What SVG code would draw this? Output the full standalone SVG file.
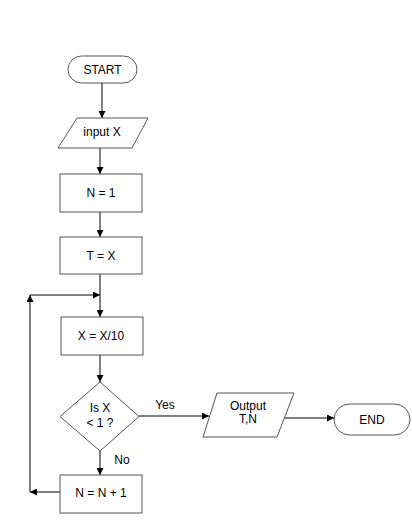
<svg xmlns="http://www.w3.org/2000/svg" width="412" height="524" viewBox="0 0 412 524">
<style>
.s{fill:#fff;stroke:#555;stroke-width:1}
.t{font-family:"Liberation Sans",Arial,sans-serif;font-size:12px;fill:#000;text-anchor:middle}
.c{fill:none;stroke:#000;stroke-width:1}
</style>
<defs>
<marker id="a" viewBox="0 0 10 10" refX="10" refY="5" markerWidth="7" markerHeight="7" orient="auto" markerUnits="userSpaceOnUse">
<path d="M0,0 L10,5 L0,10 z" fill="#000"/>
</marker>
</defs>
<rect width="412" height="524" fill="#fff"/>
<g id="connectors">
<path class="c" d="M102,83 V118" marker-end="url(#a)"/>
<path class="c" d="M100,148 V174" marker-end="url(#a)"/>
<path class="c" d="M100,212 V237" marker-end="url(#a)"/>
<path class="c" d="M100,274 V317" marker-end="url(#a)"/>
<path class="c" d="M100,355 V382" marker-end="url(#a)"/>
<path class="c" d="M100,451 V475" marker-end="url(#a)"/>
<path class="c" d="M139,416 H209" marker-end="url(#a)"/>
<path class="c" d="M285,418 H334" marker-end="url(#a)"/>
<path class="c" d="M60,492 H30" marker-end="url(#a)"/>
<path class="c" d="M30,492 V295" marker-end="url(#a)"/>
<path class="c" d="M30,295 H100" marker-end="url(#a)"/>
<text class="t" x="165" y="409">Yes</text>
<text class="t" x="122" y="464">No</text>
</g>
<g id="start">
<rect class="s" x="68" y="56" width="69" height="27" rx="13.5"/>
<text class="t" x="102.5" y="74">START</text>
</g>
<g id="input">
<polygon class="s" points="77,118 148,118 132,148 58,148"/>
<text class="t" x="102" y="136">input X</text>
</g>
<g id="n1">
<rect class="s" x="60" y="174" width="82" height="38"/>
<text class="t" x="101" y="197">N = 1</text>
</g>
<g id="tx">
<rect class="s" x="60" y="237" width="82" height="37"/>
<text class="t" x="101" y="260">T = X</text>
</g>
<g id="xdiv">
<rect class="s" x="61" y="317" width="82" height="38"/>
<text class="t" x="101" y="340">X = X/10</text>
</g>
<g id="decision">
<polygon class="s" points="100,382 139,416.5 100,451 60,416.5"/>
<text class="t" x="100" y="412">Is X</text>
<text class="t" x="100" y="427">&lt; 1 ?</text>
</g>
<g id="inc">
<rect class="s" x="60" y="475" width="82" height="38"/>
<text class="t" x="101" y="497">N = N + 1</text>
</g>
<g id="output">
<polygon class="s" points="217,393 294,393 277,437 203,437"/>
<text class="t" x="248" y="410">Output</text>
<text class="t" x="248" y="423">T,N</text>
</g>
<g id="end">
<rect class="s" x="334" y="404" width="76" height="31" rx="15.5"/>
<text class="t" x="372" y="424">END</text>
</g>
</svg>
